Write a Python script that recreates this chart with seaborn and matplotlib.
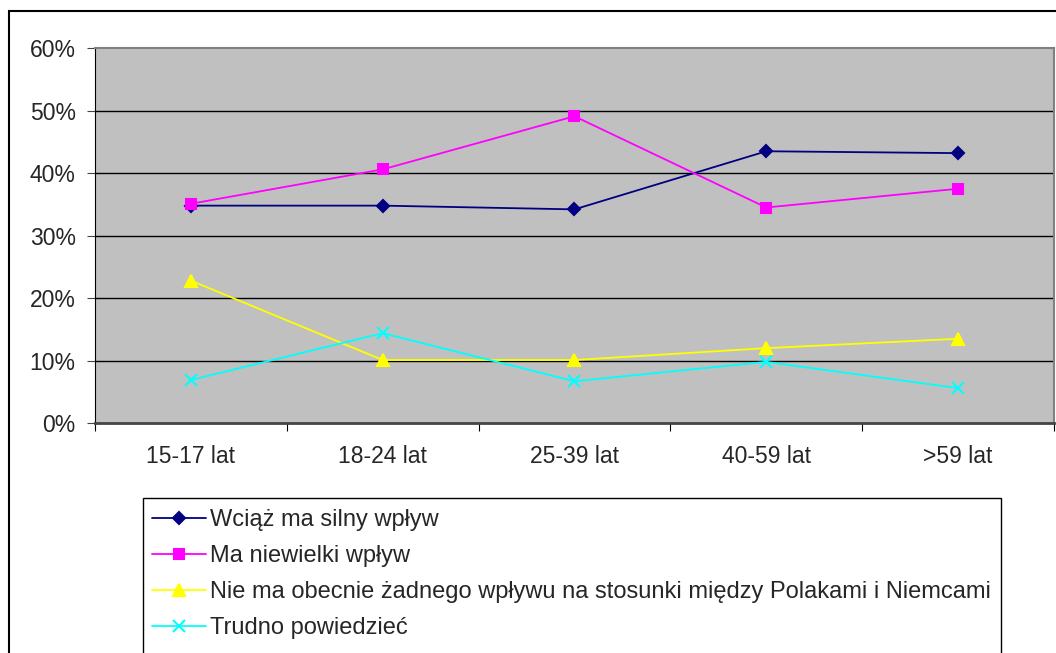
import matplotlib.pyplot as plt
import matplotlib.patches as mpatches
import seaborn as sns
import pandas as pd
import numpy as np

# Data (percent)
categories = ["15-17 lat", "18-24 lat", "25-39 lat", "40-59 lat", ">59 lat"]
series_names = [
    "Wciąż ma silny wpływ",
    "Ma niewielki wpływ",
    "Nie ma obecnie żadnego wpływu na stosunki między Polakami i Niemcami",
    "Trudno powiedzieć",
]
silny = [34.8, 34.8, 34.2, 43.5, 43.2]
niewielki = [35.1, 40.6, 49.1, 34.5, 37.5]
zaden = [22.8, 10.1, 10.1, 12.0, 13.5]
trudno = [6.9, 14.4, 6.7, 9.8, 5.6]

colors = ["#000080", "#FF00FF", "#FFFF00", "#00FFFF"]
markers = ["D", "s", "^", "x"]
msizes = [6, 7, 8, 8]

sns.set_style("white")
plt.rcParams['font.family'] = ['Liberation Sans', 'DejaVu Sans']

fig = plt.figure(figsize=(10.56, 6.53), dpi=100)
ax = fig.add_axes([0.09, 0.352, 0.908, 0.5743])
ax.set_facecolor("#C0C0C0")

x = np.arange(len(categories)) + 0.5
for name, vals, c, m, ms in zip(series_names, [silny, niewielki, zaden, trudno],
                                colors, markers, msizes):
    df = pd.DataFrame({"x": x, "y": vals})
    sns.lineplot(data=df, x="x", y="y", ax=ax, color=c, marker=m, markersize=ms,
                 markeredgecolor=c, markerfacecolor=c, markeredgewidth=1.5,
                 linewidth=1.3, label=name, legend=False)

ax.set_xlim(0, len(categories))
ax.set_ylim(0, 60)
ax.set_yticks(range(0, 61, 10))
ax.set_yticklabels([f"{v}%" for v in range(0, 61, 10)], fontsize=16.5)
ax.set_xticks(range(0, len(categories) + 1))
ax.set_xticklabels([])
ax.set_xticks(x, minor=True)
ax.set_xticklabels(categories, minor=True, fontsize=16.5)
ax.tick_params(axis="x", which="minor", length=0, pad=16)
ax.tick_params(axis="x", which="major", length=6, direction="out", color="black", bottom=True)
ax.tick_params(axis="y", length=6, direction="out", color="#444444", left=True, pad=8)
ax.set_xlabel("")
ax.set_ylabel("")
for v in range(10, 60, 10):
    ax.axhline(v, color="black", linewidth=1, zorder=0.5)
for side in ["top", "right"]:
    ax.spines[side].set_color("#808080")
    ax.spines[side].set_linewidth(1.5)
ax.spines["left"].set_color("black")
ax.spines["bottom"].set_color("#444444")
ax.spines["bottom"].set_linewidth(2)

# outer chart border (cut off at right and bottom)
fig.add_artist(mpatches.Rectangle((9 / 1056, -0.1), 1.2, 0.1 + (653 - 11) / 653,
                                  transform=fig.transFigure, fill=False,
                                  edgecolor="black", linewidth=1.5))
# legend box (extends past the bottom)
fig.add_artist(mpatches.Rectangle((143 / 1056, -0.1), (1001 - 143) / 1056, 0.1 + (653 - 498) / 653,
                                  transform=fig.transFigure, fill=False,
                                  edgecolor="black", linewidth=1))

handles, labels = ax.get_legend_handles_labels()
fig.legend(handles, labels, loc="upper left", bbox_to_anchor=(147 / 1056, 0.228),
           frameon=False, fontsize=17, handlelength=2.3, handletextpad=0.15,
           labelspacing=0.6, borderaxespad=0, borderpad=0.2)

fig.savefig("out.png", dpi=100)
